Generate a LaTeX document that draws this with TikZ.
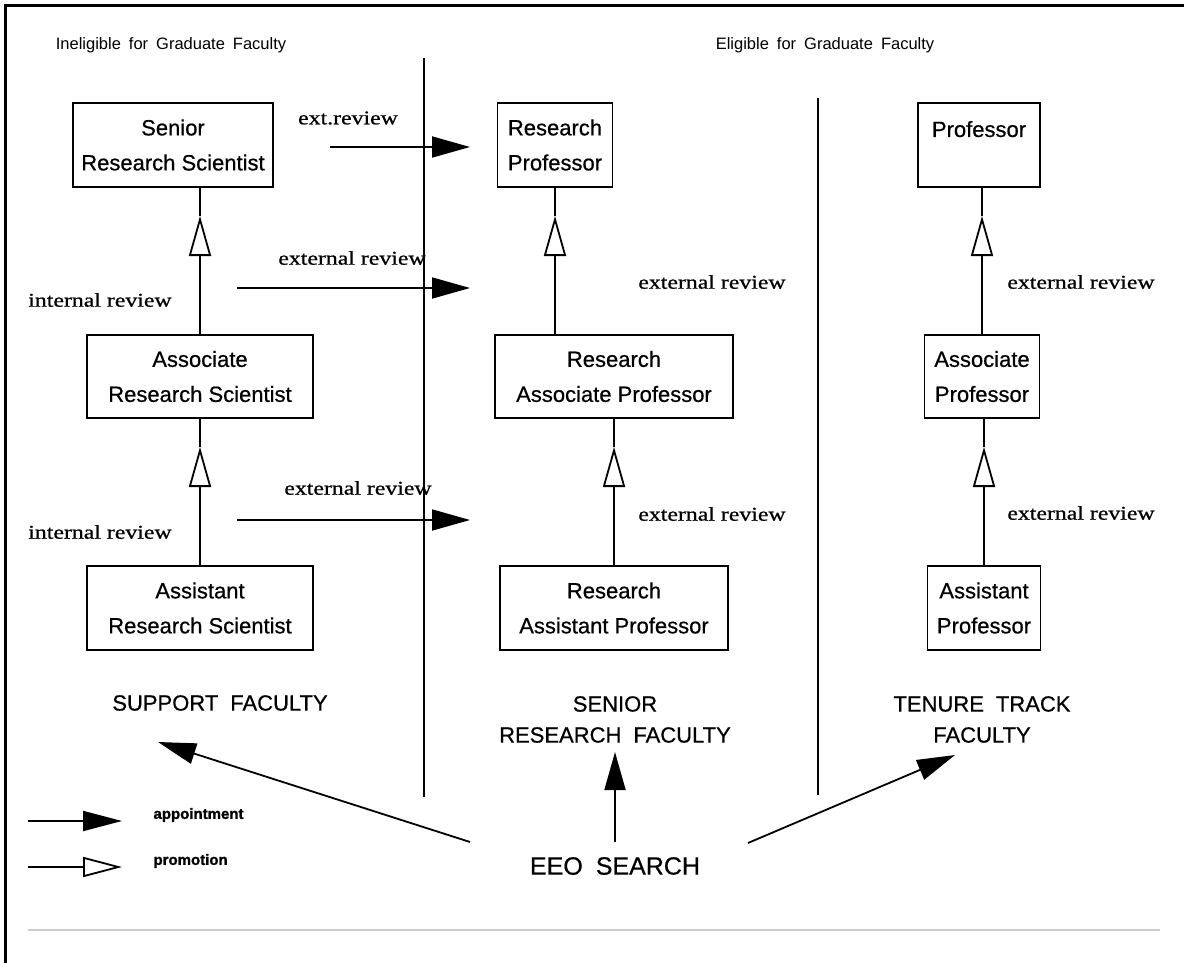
\documentclass[tikz,border=0pt]{standalone}
\usepackage{fontspec}
\setmainfont{Liberation Serif}
\newfontfamily\boxfont[FakeBold=0.6]{Liberation Sans}
\newfontfamily\hdrfont{Liberation Sans}
\newfontfamily\legfont[FakeBold=1.2]{Liberation Sans Bold}
\newfontfamily\revfont[FakeStretch=1.22,FakeBold=0.8]{Liberation Serif}
\newcommand\eligfnt{\hdrfont\fontsize{16.5}{20}\selectfont\spaceskip=8pt\relax}
\newcommand\facfnt{\boxfont\fontsize{22}{31}\selectfont\spaceskip=12pt\relax}
\newcommand\eeofnt{\boxfont\fontsize{25}{30}\selectfont\spaceskip=13pt\relax}
\usetikzlibrary{arrows.meta}
\begin{document}
\begin{tikzpicture}[x=1pt,y=-1pt,
  box/.style={draw,line width=1.8pt,inner sep=0pt,align=center,
    font=\boxfont\fontsize{22}{35}\selectfont},
  conn/.style={line width=1.8pt},
  appt/.style={line width=1.8pt,-{Triangle[length=38pt,width=21pt]}},
  promo/.style={line width=1.8pt,-{Triangle[length=40pt,width=22pt,fill=white]}},
  rev/.style={font=\revfont\fontsize{19.5}{22}\selectfont},
  elig/.style={font=\eligfnt},
  fac/.style={align=center,font=\facfnt},
  leg/.style={anchor=west,font=\legfont\fontsize{15}{18}\selectfont},
  divider/.style={line width=1.3pt}
]
\useasboundingbox (0,0) rectangle (1184,963);
% frame
\draw[line width=3.5pt] (5.5,963) -- (5.5,5.5) -- (1184,5.5);
\draw[line width=1.5pt,black!20] (28,930) -- (1160,930);

% dividers
\draw[divider] (424,58) -- (424,797);
\draw[divider] (818,98) -- (818,795);

% headers
\node[elig] (inel) at (171,45) {Ineligible for Graduate Faculty};
\node[elig] (elig) at (825,45) {Eligible for Graduate Faculty};

% left column boxes
\node[box,minimum width=200pt,minimum height=84pt] (SRS) at (173,145) {Senior\\Research Scientist};
\node[box,minimum width=226pt,minimum height=83pt] (ARS) at (200,376.5) {Associate\\Research Scientist};
\node[box,minimum width=226pt,minimum height=84pt] (AsRS) at (200,608) {Assistant\\Research Scientist};

% middle column boxes
\node[box,minimum width=115pt,minimum height=84pt] (RP) at (555,145) {Research\\Professor};
\node[box,minimum width=238pt,minimum height=83pt] (RAP) at (614,376.5) {Research\\Associate Professor};
\node[box,minimum width=228pt,minimum height=84pt] (RAsP) at (614,608) {Research\\Assistant Professor};

% right column boxes
\node[box,minimum width=122pt,minimum height=84pt,text depth=32pt] (P) at (979,145) {Professor};
\node[box,minimum width=115pt,minimum height=83pt] (AP) at (982,376.5) {Associate\\Professor};
\node[box,minimum width=113pt,minimum height=84pt] (AsP) at (984,608) {Assistant\\Professor};

% promotion connectors
\coordinate (tL1) at (200,216);
\coordinate (tL2) at (200,447);
\draw[conn] (tL1) -- (ARS.north |- SRS.south);
\draw[promo] (ARS.north) -- (tL1);
\draw[conn] (tL2) -- (ARS.south);
\draw[promo] (AsRS.north) -- (tL2);

\coordinate (tM1) at (555,216);
\coordinate (tM2) at (614,447);
\draw[conn] (tM1) -- (RP.south);
\draw[promo] (RP.south |- RAP.north) -- (tM1);
\draw[conn] (tM2) -- (RAP.south);
\draw[promo] (RAsP.north) -- (tM2);

\coordinate (tR1) at (982,216);
\coordinate (tR2) at (984,447);
\draw[conn] (tR1) -- (AP.north |- P.south);
\draw[promo] (AP.north) -- (tR1);
\draw[conn] (tR2) -- (AsP.north |- AP.south);
\draw[promo] (AsP.north) -- (tR2);

% review labels
\node[rev] (ir1) at (100,300) {internal review};
\node[rev] (ir2) at (100,532) {internal review};
\node[rev] (er1) at (712,282) {external review};
\node[rev] (er2) at (712,514) {external review};
\node[rev] (er3) at (1081,282) {external review};
\node[rev] (er4) at (1081,513) {external review};

% appointment arrows across divider
\coordinate (a1s) at (330,147); \coordinate (a1e) at (470,147);
\coordinate (a2s) at (237,288); \coordinate (a2e) at (470,288);
\coordinate (a3s) at (237,520); \coordinate (a3e) at (470,520);
\draw[appt] (a1s) -- (a1e);
\draw[appt] (a2s) -- (a2e);
\draw[appt] (a3s) -- (a3e);
\node[rev] (xr1) at (348,118) {ext.review};
\node[rev] (xr2) at (352,258) {external review};
\node[rev] (xr3) at (358,488) {external review};

% faculty labels
\node[fac] (SF) at (220,703) {SUPPORT FACULTY};
\node[fac] (SRF) at (615,719.5) {SENIOR\\RESEARCH FACULTY};
\node[fac] (TTF) at (982,719.5) {TENURE TRACK\\FACULTY};

% EEO search
\node[font=\eeofnt] (EEO) at (615,866) {EEO SEARCH};
\coordinate (e1) at (470,842); \coordinate (f1) at (158,742);
\coordinate (e2) at (615,842); \coordinate (f2) at (615,752);
\coordinate (e3) at (748,843); \coordinate (f3) at (955,755);
\draw[appt] (e1) -- (f1);
\draw[appt] (e2) -- (f2);
\draw[appt] (e3) -- (f3);

% legend
\coordinate (l1s) at (28,821); \coordinate (l1e) at (122,821);
\coordinate (l2s) at (28,867); \coordinate (l2e) at (122,867);
\draw[line width=1.8pt,-{Triangle[length=39pt,width=20pt]}] (l1s) -- (l1e);
\draw[line width=1.8pt,-{Triangle[length=39pt,width=20pt,fill=white]}] (l2s) -- (l2e);
\node[leg] (lapp) at (150,815) {appointment};
\node[leg] (lpro) at (150,861) {promotion};
\end{tikzpicture}
\end{document}
